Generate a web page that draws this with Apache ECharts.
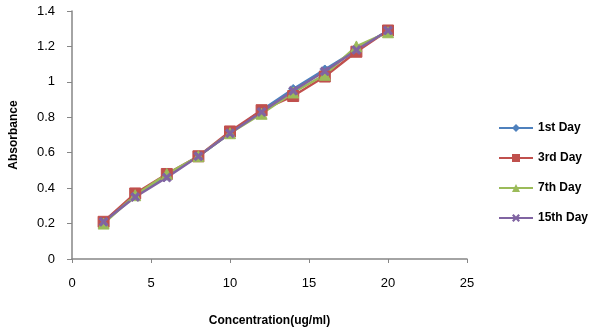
<!DOCTYPE html>
<html>
<head>
<meta charset="utf-8">
<script src="https://cdn.jsdelivr.net/npm/echarts@6/dist/echarts.min.js"></script>
<style>
  html, body { margin: 0; padding: 0; background: #fff; }
  #chart { width: 604px; height: 332px; }
</style>
</head>
<body>
<div id="chart"></div>
<script>
// concentration (ug/ml)
var conc = [2, 4, 6, 8, 10, 12, 14, 16, 18, 20];
// absorbance per day
var day1 = [0.21, 0.36, 0.47, 0.58, 0.71, 0.84, 0.96, 1.07, 1.18, 1.29];
var day3 = [0.21, 0.37, 0.48, 0.58, 0.72, 0.84, 0.92, 1.03, 1.17, 1.29];
var day7 = [0.20, 0.36, 0.48, 0.58, 0.71, 0.82, 0.94, 1.04, 1.20, 1.28];
var day15 = [0.21, 0.35, 0.46, 0.58, 0.71, 0.83, 0.95, 1.06, 1.18, 1.29];
var seriesNames = ['1st Day', '3rd Day', '7th Day', '15th Day'];

function pairs(ys) {
  return conc.map(function (x, i) { return [x, ys[i]]; });
}

var chart = echarts.init(document.getElementById('chart'));
var font = 'Liberation Sans, Arial, sans-serif';
var xMark = 'path://M0,2L2,0L5,3L8,0L10,2L7,5L10,8L8,10L5,7L2,10L0,8L3,5Z';

function mkSeries(name, data, color, symbol, size) {
  return {
    name: name,
    type: 'line',
    data: pairs(data),
    symbol: symbol,
    symbolSize: size,
    lineStyle: { color: color, width: 2.5 },
    itemStyle: { color: color, borderColor: color },
    animation: false
  };
}

chart.setOption({
  animation: false,
  grid: { left: 68, top: 11, right: 137, bottom: 70 },
  legend: {
    orient: 'vertical',
    left: 493,
    top: 117,
    itemGap: 18,
    itemWidth: 34,
    itemHeight: 10,
    textStyle: { fontFamily: font, fontSize: 12, color: '#000', fontWeight: 'bold' },
    data: seriesNames
  },
  xAxis: {
    type: 'value',
    min: 0, max: 25, interval: 5,
    name: 'Concentration(ug/ml)',
    nameLocation: 'middle',
    nameGap: 56,
    nameTextStyle: { fontFamily: font, fontSize: 12, fontWeight: 'bold', color: '#000' },
    axisLine: { lineStyle: { color: '#868686', width: 1.5 } },
    axisTick: { show: true, length: 4, lineStyle: { color: '#868686' } },
    axisLabel: { fontFamily: font, fontSize: 13, color: '#000', margin: 18 },
    splitLine: { show: false }
  },
  yAxis: {
    type: 'value',
    min: 0, max: 1.4, interval: 0.2,
    name: 'Absorbance',
    nameLocation: 'middle',
    nameGap: 52,
    nameTextStyle: { fontFamily: font, fontSize: 12, fontWeight: 'bold', color: '#000' },
    axisLine: { show: true, lineStyle: { color: '#868686', width: 1.5 } },
    axisTick: { show: true, length: 5, lineStyle: { color: '#868686' } },
    axisLabel: { fontFamily: font, fontSize: 13, color: '#000', margin: 17 },
    splitLine: { show: false }
  },
  series: [
    mkSeries(seriesNames[0], day1, '#4F81BD', 'diamond', 9),
    mkSeries(seriesNames[1], day3, '#C0504D', 'rect', 11),
    mkSeries(seriesNames[2], day7, '#9BBB59', 'triangle', 11),
    mkSeries(seriesNames[3], day15, '#8064A2', xMark, 9)
  ]
});
</script>
</body>
</html>
